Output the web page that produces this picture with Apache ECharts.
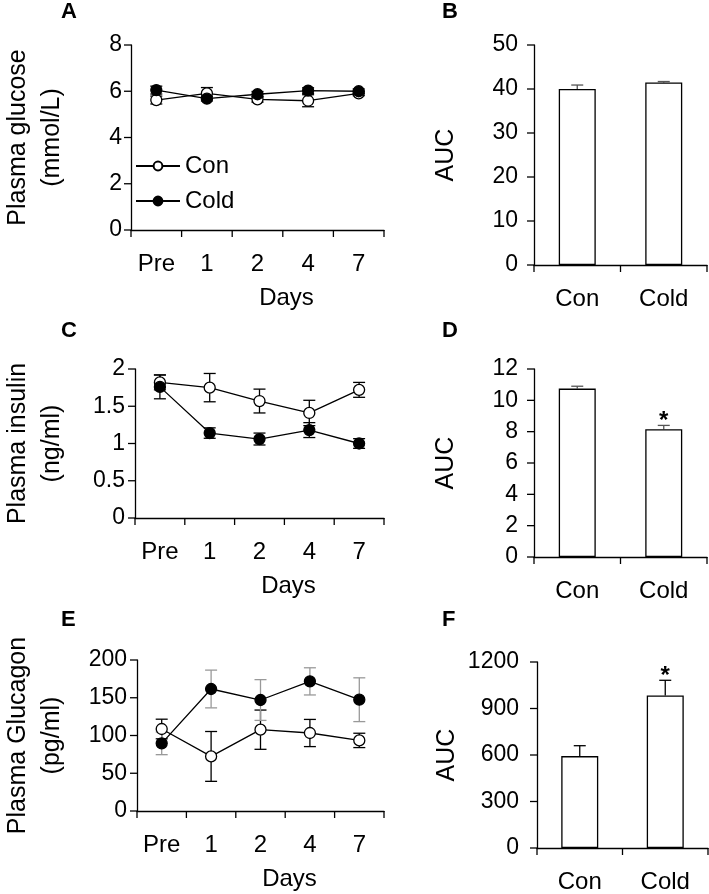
<!DOCTYPE html>
<html>
<head>
<meta charset="utf-8">
<script src="https://cdn.jsdelivr.net/npm/echarts@6/dist/echarts.min.js"></script>
<style>
html,body{margin:0;padding:0;background:#fff;}
#c{width:709px;height:894px;}
</style>
</head>
<body>
<div id="c"></div>
<script>
// ---- data ----
const days = ['Pre', '1', '2', '4', '7'];
const groups = ['Con', 'Cold'];

const glucoseCon = [5.62, 5.91, 5.65, 5.59, 5.91];
const glucoseConErr = [0.17, 0.25, 0.12, 0.26, 0.1];
const glucoseCold = [6.05, 5.68, 5.87, 6.03, 6.0];
const glucoseColdErr = [0.17, 0.1, 0.12, 0.12, 0.1];
const glucoseAUC = [40.0, 41.5];
const glucoseAUCErr = [0.9, 0.2];
const glucoseAUCSig = [false, false];

const insulinCon = [1.82, 1.75, 1.57, 1.41, 1.72];
const insulinConErr = [0.1, 0.19, 0.16, 0.17, 0.1];
const insulinCold = [1.76, 1.14, 1.06, 1.18, 1.0];
const insulinColdErr = [0.16, 0.07, 0.08, 0.1, 0.065];
const insulinAUC = [10.75, 8.15];
const insulinAUCErr = [0.15, 0.25];
const insulinAUCSig = [false, true];

const glucagonCon = [108.6, 72.3, 107.7, 103.3, 93.5];
const glucagonConErr = [13, 33, 26, 18, 9.5];
const glucagonCold = [89.6, 161.6, 147, 171.7, 147.4];
const glucagonColdErr = [15, 25, 27, 18, 29];
const glucagonAUC = [593, 984];
const glucagonAUCErr = [67, 98];
const glucagonAUCSig = [false, true];

const yTicksA = [0, 2, 4, 6, 8];
const yTicksB = [0, 10, 20, 30, 40, 50];
const yTicksC = [0, 0.5, 1, 1.5, 2];
const yTicksD = [0, 2, 4, 6, 8, 10, 12];
const yTicksE = [0, 50, 100, 150, 200];
const yTicksF = [0, 300, 600, 900, 1200];

const panelLetters = ['A', 'B', 'C', 'D', 'E', 'F'];

// ---- chart ----
const FONT = 'Liberation Sans';
const chart = echarts.init(document.getElementById('c'), null, {renderer: 'canvas'});

const grids = [
  {left: 129, top: 45, width: 255, height: 185},
  {left: 534, top: 45, width: 173, height: 220},
  {left: 129, top: 369, width: 255, height: 149},
  {left: 534, top: 369, width: 173, height: 188},
  {left: 129, top: 660, width: 255, height: 151},
  {left: 537, top: 662, width: 171, height: 186}
];
const letterPos = [[61, 1], [442, 1], [61, 320], [442, 320], [61, 609], [442, 609]];
const TICK_LEN = 7;

function mkLine() { return {show: true, onZero: false, lineStyle: {color: '#000', width: 1.3}}; }

function xAx(i, cats, withName) {
  const a = {
    type: 'category', gridIndex: i, data: cats, boundaryGap: true,
    axisLine: mkLine(), axisTick: {show: false}, splitLine: {show: false},
    axisLabel: {color: '#000', fontFamily: FONT, fontSize: 24, margin: 22, interval: 0}
  };
  if (withName) {
    a.name = 'Days';
    a.nameLocation = 'middle';
    a.nameGap = 56;
    a.nameTextStyle = {color: '#000', fontFamily: FONT, fontSize: 24, padding: [0, 0, 0, 58]};
  }
  return a;
}
function yAx(i, ticks, name, gap, labelMargin) {
  return {
    type: 'value', gridIndex: i, min: ticks[0], max: ticks[ticks.length - 1],
    interval: ticks[1] - ticks[0],
    axisLine: mkLine(), axisTick: {show: false}, splitLine: {show: false},
    axisLabel: {color: '#000', fontFamily: FONT, fontSize: 23, margin: labelMargin,
      formatter: function (v) { return String(v); }},
    name: name, nameLocation: 'middle', nameGap: gap, nameRotate: 90,
    nameTextStyle: {color: '#000', fontFamily: FONT, fontSize: 25, lineHeight: 34}
  };
}

// tick marks drawn through the axes' own scales
function tickSeries(i, ticks, nCats) {
  const data = [];
  ticks.forEach(v => data.push([0, v, 0, 0]));                 // y ticks
  for (let k = 0; k <= nCats; k++) {                            // category boundaries
    data.push([Math.min(k, nCats - 1), ticks[0], 1, k < nCats ? -1 : 1]);
  }
  return {
    type: 'custom', xAxisIndex: i, yAxisIndex: i, z: 5, silent: true, clip: false,
    encode: {x: 0, y: 1},
    data: data,
    renderItem: function (params, api) {
      const kind = api.value(2), side = api.value(3);
      const p = api.coord([api.value(0), api.value(1)]);
      const band = api.size([1, 0])[0];
      const st = {stroke: '#000', lineWidth: 1.3};
      if (kind === 0) {
        const x0 = p[0] - band / 2;
        return {type: 'line', shape: {x1: x0 - TICK_LEN, y1: p[1], x2: x0, y2: p[1]}, style: st};
      }
      const x = p[0] + side * band / 2;
      return {type: 'line', shape: {x1: x, y1: p[1], x2: x, y2: p[1] + TICK_LEN}, style: st};
    }
  };
}

function errSeries(i, vals, errs, color, opts) {
  opts = opts || {};
  const data = vals.map((v, k) => [k, opts.upOnly ? v : v - errs[k], v + errs[k], opts.sig ? (opts.sig[k] ? 1 : 0) : 0]);
  return {
    type: 'custom', xAxisIndex: i, yAxisIndex: i, z: 1, silent: true,
    encode: {x: 0, y: [1, 2]},
    data: data,
    renderItem: function (params, api) {
      const x = api.value(0), lo = api.value(1), hi = api.value(2), sig = api.value(3);
      const pHi = api.coord([x, hi]);
      const pLo = api.coord([x, lo]);
      const w = 6;
      const st = {stroke: color, lineWidth: 1.3};
      const ch = [
        {type: 'line', shape: {x1: pHi[0], y1: pHi[1], x2: pLo[0], y2: pLo[1]}, style: st},
        {type: 'line', shape: {x1: pHi[0] - w, y1: pHi[1], x2: pHi[0] + w, y2: pHi[1]}, style: st}
      ];
      if (!opts.upOnly) {
        ch.push({type: 'line', shape: {x1: pLo[0] - w, y1: pLo[1], x2: pLo[0] + w, y2: pLo[1]}, style: st});
      }
      if (sig) {
        ch.push({type: 'text', x: pHi[0], y: pHi[1] + 8,
          style: {text: '*', fill: '#000', fontSize: 24, fontWeight: 'bold', fontFamily: FONT,
            align: 'center', verticalAlign: 'bottom'}});
      }
      return {type: 'group', children: ch};
    }
  };
}

function lineSeries(i, name, vals, filled) {
  return {
    type: 'line', name: name, xAxisIndex: i, yAxisIndex: i, data: vals, z: 3,
    symbol: 'circle', symbolSize: 11, showSymbol: true,
    lineStyle: {color: '#000', width: 1.3},
    itemStyle: {color: filled ? '#000' : '#fff', borderColor: '#000', borderWidth: 1.3},
    emphasis: {disabled: true}
  };
}
function barSeries(i, vals) {
  return {
    type: 'bar', xAxisIndex: i, yAxisIndex: i, data: vals, barWidth: 37, z: 2,
    itemStyle: {color: '#fff', borderColor: '#000', borderWidth: 1.3},
    emphasis: {disabled: true}
  };
}

const option = {
  animation: false,
  backgroundColor: '#fff',
  title: panelLetters.map((t, k) => ({
    text: t, left: letterPos[k][0], top: letterPos[k][1], padding: 0,
    textStyle: {color: '#000', fontFamily: FONT, fontSize: 22, fontWeight: 'bold', lineHeight: 22}
  })),
  grid: grids,
  legend: {
    data: ['Con', 'Cold'],
    orient: 'vertical', left: 130, top: 149, itemWidth: 44, itemHeight: 11, itemGap: 11,
    textStyle: {color: '#000', fontFamily: FONT, fontSize: 24},
    selectedMode: false
  },
  xAxis: [
    xAx(0, days, true), xAx(1, groups, false),
    xAx(2, days, true), xAx(3, groups, false),
    xAx(4, days, true), xAx(5, groups, false)
  ],
  yAxis: [
    yAx(0, yTicksA, 'Plasma glucose\n(mmol/L)', 62, 9),
    yAx(1, yTicksB, 'AUC', 71, 16),
    yAx(2, yTicksC, 'Plasma insulin\n(ng/ml)', 66, 10),
    yAx(3, yTicksD, 'AUC', 71, 16),
    yAx(4, yTicksE, 'Plasma Glucagon\n(pg/ml)', 68, 10),
    yAx(5, yTicksF, 'AUC', 73, 18)
  ],
  series: [
    tickSeries(0, yTicksA, days.length),
    tickSeries(1, yTicksB, groups.length),
    tickSeries(2, yTicksC, days.length),
    tickSeries(3, yTicksD, groups.length),
    tickSeries(4, yTicksE, days.length),
    tickSeries(5, yTicksF, groups.length),

    errSeries(0, glucoseCon, glucoseConErr, '#000'),
    errSeries(0, glucoseCold, glucoseColdErr, '#000'),
    lineSeries(0, 'Con', glucoseCon, false),
    lineSeries(0, 'Cold', glucoseCold, true),
    barSeries(1, glucoseAUC),
    errSeries(1, glucoseAUC, glucoseAUCErr, '#555', {upOnly: true, sig: glucoseAUCSig}),

    errSeries(2, insulinCon, insulinConErr, '#000'),
    errSeries(2, insulinCold, insulinColdErr, '#000'),
    lineSeries(2, 'Con', insulinCon, false),
    lineSeries(2, 'Cold', insulinCold, true),
    barSeries(3, insulinAUC),
    errSeries(3, insulinAUC, insulinAUCErr, '#555', {upOnly: true, sig: insulinAUCSig}),

    errSeries(4, glucagonCon, glucagonConErr, '#000'),
    errSeries(4, glucagonCold, glucagonColdErr, '#999'),
    lineSeries(4, 'Con', glucagonCon, false),
    lineSeries(4, 'Cold', glucagonCold, true),
    barSeries(5, glucagonAUC),
    errSeries(5, glucagonAUC, glucagonAUCErr, '#000', {upOnly: true, sig: glucagonAUCSig})
  ]
};
chart.setOption(option);
</script>
</body>
</html>
